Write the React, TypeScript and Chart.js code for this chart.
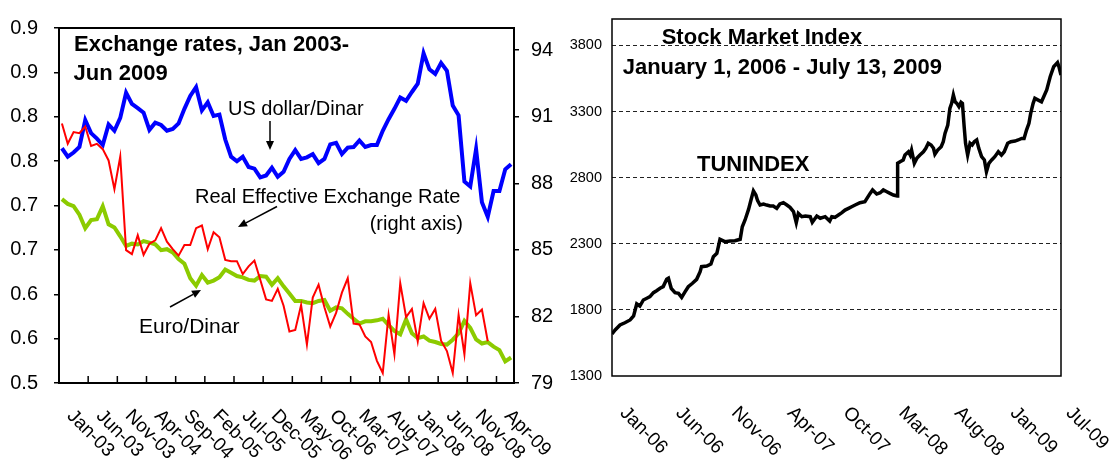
import React, { useEffect, useRef } from 'react';
import { Chart, registerables } from 'chart.js';

Chart.register(...registerables);

const FONT = '"Liberation Sans", Arial, sans-serif';

// ---------- Left chart: exchange rates (monthly, Jan-03 .. Jun-09) ----------
const monthNames = ['Jan', 'Feb', 'Mar', 'Apr', 'May', 'Jun', 'Jul', 'Aug', 'Sep', 'Oct', 'Nov', 'Dec'];
const categories: string[] = [];
for (let y = 2003; y <= 2009; y++) {
  for (let m = 0; m < 12; m++) {
    if (y === 2009 && m > 5) break;
    categories.push(`${monthNames[m]}-${String(y).slice(2)}`);
  }
}

const leftXLabels = ['Jan-03', 'Jun-03', 'Nov-03', 'Apr-04', 'Sep-04', 'Feb-05', 'Jul-05', 'Dec-05',
  'May-06', 'Oct-06', 'Mar-07', 'Aug-07', 'Jan-08', 'Jun-08', 'Nov-08', 'Apr-09'];

const leftYTicks = [0.5, 0.55, 0.6, 0.65, 0.7, 0.75, 0.8, 0.85, 0.9];
const leftYLabels = ['0.5', '0.6', '0.6', '0.7', '0.7', '0.8', '0.8', '0.9', '0.9'];
const rightYTicks = [79, 82, 85, 88, 91, 94];

const usdDinar = [
  0.7645, 0.755, 0.7597, 0.766, 0.7962, 0.7816, 0.7754, 0.7681, 0.7914, 0.7842,
  0.7987, 0.8271, 0.8144, 0.8097, 0.8046, 0.7852, 0.7933, 0.7907, 0.7842, 0.7863,
  0.7925, 0.8089, 0.8235, 0.8333, 0.8071, 0.8162, 0.8009, 0.8024, 0.7743, 0.755,
  0.7499, 0.755, 0.7434, 0.7415, 0.7317, 0.7338, 0.7426, 0.7324, 0.7379, 0.7525,
  0.7623, 0.7525, 0.7543, 0.7579, 0.7477, 0.7525, 0.7689, 0.7707, 0.7579, 0.7652,
  0.7659, 0.7732, 0.7659, 0.7681, 0.7681, 0.7842, 0.7973, 0.8089, 0.8217, 0.818,
  0.8279, 0.8373, 0.8716, 0.8534, 0.8483, 0.8607, 0.8519, 0.8126, 0.8016, 0.727,
  0.7215, 0.7634, 0.7036, 0.6872, 0.7164, 0.7164, 0.7408, 0.7466,
];

const euroDinar = [
  0.7072, 0.7018, 0.6992, 0.6897, 0.6744, 0.6835, 0.6846, 0.6992, 0.6788, 0.6752,
  0.6653, 0.6544, 0.657, 0.6562, 0.6599, 0.6581, 0.6562, 0.6497, 0.6508, 0.6471,
  0.6398, 0.6344, 0.618, 0.6096, 0.6216, 0.6132, 0.6154, 0.6191, 0.6278, 0.6242,
  0.6205, 0.6191, 0.6162, 0.6154, 0.6205, 0.6198, 0.6107, 0.618, 0.6089, 0.6009,
  0.5925, 0.5925, 0.5907, 0.5899, 0.5925, 0.5936, 0.5815, 0.5852, 0.5841, 0.5779,
  0.5724, 0.567, 0.5695, 0.5695, 0.5706, 0.5724, 0.5651, 0.5586, 0.5549, 0.5717,
  0.556, 0.5506, 0.5524, 0.5477, 0.5462, 0.544, 0.5433, 0.5488, 0.556, 0.57,
  0.5622, 0.549, 0.5445, 0.546, 0.541, 0.537, 0.5243, 0.5287,
];

const reer = [
  90.7, 89.78, 90.31, 90.26, 90.56, 89.68, 89.78, 89.54, 89.03, 87.74,
  89.2, 84.99, 84.81, 85.66, 84.78, 85.28, 85.43, 85.98, 85.37, 85.03,
  84.74, 85.22, 85.22, 85.98, 86.1, 85.03, 85.8, 85.57, 84.55, 84.49,
  84.49, 83.91, 84.26, 84.52, 83.65, 82.77, 82.7, 83.24, 82.48, 81.32,
  81.39, 82.51, 80.73, 82.85, 83.43, 82.41, 81.54, 82.16, 83.07, 83.72,
  81.68, 81.64, 81.1, 80.85, 80.0, 79.45, 82.07, 80.3, 83.5, 81.97,
  82.34, 80.88, 82.6, 81.9, 82.34, 80.91, 80.44, 79.45, 82.07, 80.3,
  83.5, 82.05, 82.31, 80.88,
];

// ---------- Right chart: TUNINDEX (days since Jan 1, 2006) ----------
const tunDays = [
  0, 9, 23, 37, 52, 62, 71, 80, 90, 100,
  109, 119, 128, 138, 147, 157, 162, 170, 181, 191,
  200, 210, 219, 231, 243, 253, 257, 272, 284, 291,
  301, 310, 324, 339, 353, 368, 374, 382, 392, 399,
  406, 413, 418, 425, 435, 444, 454, 463, 473, 482,
  492, 502, 511, 521, 529, 535, 545, 555, 569, 575,
  588, 598, 612, 625, 631, 640, 650, 660, 669, 679,
  688, 698, 712, 726, 741, 748, 760, 770, 779, 789,
  798, 808, 819, 820, 827, 836, 841, 851, 856, 860,
  868, 875, 884, 894, 901, 908, 916, 923, 927, 935,
  945, 951, 956, 964, 970, 975, 980, 985, 990, 996,
  1002, 1006, 1011, 1015, 1021, 1028, 1034, 1040, 1047, 1053,
  1061, 1069, 1075, 1082, 1090, 1099, 1109, 1118, 1126, 1136,
  1145, 1157, 1166, 1176, 1183, 1190, 1197, 1202, 1209, 1214,
  1233, 1248, 1258, 1268, 1279, 1283, 1289,
];

const tunIndex = [
  1618, 1648, 1686, 1703, 1724, 1754, 1845, 1829, 1875, 1888,
  1900, 1930, 1945, 1963, 1976, 2031, 2039, 1963, 1930, 1925,
  1895, 1938, 1975, 2001, 2031, 2089, 2127, 2132, 2147, 2202,
  2228, 2334, 2316, 2321, 2323, 2334, 2429, 2480, 2560, 2631,
  2700, 2669, 2626, 2593, 2601, 2593, 2586, 2586, 2568, 2601,
  2611, 2593, 2576, 2543, 2460, 2530, 2505, 2510, 2505, 2462,
  2510, 2493, 2505, 2472, 2505, 2500, 2518, 2535, 2555, 2568,
  2580, 2593, 2611, 2618, 2681, 2707, 2676, 2686, 2707, 2694,
  2681, 2669, 2661, 2909, 2921, 2934, 2971, 2996, 2971, 3009,
  2909, 2946, 2971, 2996, 3022, 3060, 3047, 3022, 2977, 3009,
  3034, 3072, 3135, 3198, 3324, 3362, 3425, 3374, 3362, 3337,
  3370, 3362, 3186, 3060, 2971, 3060, 3047, 3072, 3085, 3022,
  2959, 2934, 2845, 2909, 2934, 2959, 2996, 2971, 2996, 3060,
  3072, 3077, 3085, 3097, 3097, 3160, 3211, 3286, 3362, 3400,
  3374, 3463, 3563, 3639, 3670, 3640, 3576,
];

const tunXTickDays = [0, 160, 320, 480, 640, 800, 960, 1120, 1280];
const tunXLabels = ['Jan-06', 'Jun-06', 'Nov-06', 'Apr-07', 'Oct-07', 'Mar-08', 'Aug-08', 'Jan-09', 'Jul-09'];
const tunYTicks = [1300, 1800, 2300, 2800, 3300, 3800];

function drawArrow(ctx: CanvasRenderingContext2D, x1: number, y1: number, x2: number, y2: number) {
  const ang = Math.atan2(y2 - y1, x2 - x1);
  const len = 9;
  const hw = 4;
  const bx = x2 - len * Math.cos(ang);
  const by = y2 - len * Math.sin(ang);
  ctx.beginPath();
  ctx.moveTo(x1, y1);
  ctx.lineTo(bx, by);
  ctx.stroke();
  ctx.beginPath();
  ctx.moveTo(x2, y2);
  ctx.lineTo(bx + hw * Math.sin(ang), by - hw * Math.cos(ang));
  ctx.lineTo(bx - hw * Math.sin(ang), by + hw * Math.cos(ang));
  ctx.closePath();
  ctx.fill();
}

function drawRotated(ctx: CanvasRenderingContext2D, text: string, x: number, y: number) {
  ctx.save();
  ctx.translate(x, y);
  ctx.rotate(Math.PI / 4);
  ctx.textAlign = 'left';
  ctx.textBaseline = 'middle';
  ctx.fillText(text, 0, 0);
  ctx.restore();
}

const leftDecor = {
  id: 'leftDecor',
  afterDraw(chart: any) {
    const { ctx, chartArea: a, scales } = chart;
    const xs = scales.x;
    ctx.save();
    ctx.strokeStyle = '#000';
    ctx.fillStyle = '#000';
    ctx.lineWidth = 2;
    ctx.strokeRect(a.left, a.top, a.right - a.left, a.bottom - a.top);
    const step = xs.getPixelForValue(1) - xs.getPixelForValue(0);
    ctx.lineWidth = 1.5;
    ctx.beginPath();
    for (let i = 5; i < categories.length; i += 5) {
      const px = xs.getPixelForValue(i) - step / 2;
      ctx.moveTo(px, a.bottom);
      ctx.lineTo(px, a.bottom - 7);
    }
    ctx.stroke();
    ctx.font = `19px ${FONT}`;
    leftXLabels.forEach((lab, k) => {
      drawRotated(ctx, lab, xs.getPixelForValue(k * 5) + 8, a.bottom + 30);
    });
    // titles
    ctx.textAlign = 'left';
    ctx.textBaseline = 'alphabetic';
    ctx.font = `bold 22px ${FONT}`;
    ctx.fillText('Exchange rates, Jan 2003-', 74, 51);
    ctx.fillText('Jun 2009', 73.5, 80);
    ctx.font = `20px ${FONT}`;
    ctx.fillText('US dollar/Dinar', 228, 114.5);
    ctx.fillText('Real Effective Exchange Rate', 195, 202.7);
    ctx.textAlign = 'right';
    ctx.fillText('(right axis)', 463, 229.5);
    ctx.textAlign = 'left';
    ctx.font = `21px ${FONT}`;
    ctx.fillText('Euro/Dinar', 139, 332.7);
    ctx.lineWidth = 1.5;
    drawArrow(ctx, 270, 121, 270, 150);
    drawArrow(ctx, 277, 206.5, 238, 227);
    drawArrow(ctx, 170, 307, 201, 290);
    ctx.restore();
  },
};

const rightDecor = {
  id: 'rightDecor',
  afterDraw(chart: any) {
    const { ctx, chartArea: a, scales } = chart;
    const xs = scales.x;
    ctx.save();
    ctx.strokeStyle = '#000';
    ctx.fillStyle = '#000';
    ctx.lineWidth = 1.5;
    ctx.strokeRect(a.left, a.top, a.right - a.left, a.bottom - a.top);
    ctx.font = `19px ${FONT}`;
    tunXTickDays.forEach((d, k) => {
      drawRotated(ctx, tunXLabels[k], xs.getPixelForValue(d) + 11, a.bottom + 34);
    });
    ctx.textAlign = 'left';
    ctx.textBaseline = 'alphabetic';
    ctx.font = `bold 22px ${FONT}`;
    ctx.fillText('Stock Market Index', 101.7, 43.7);
    ctx.fillText('January 1, 2006 - July 13, 2009', 62.7, 73.7);
    ctx.fillText('TUNINDEX', 137, 170.5);
    ctx.restore();
  },
};

export default function App() {
  const leftRef = useRef<HTMLCanvasElement>(null);
  const rightRef = useRef<HTMLCanvasElement>(null);

  useEffect(() => {
    const left = new Chart(leftRef.current as HTMLCanvasElement, {
      type: 'line',
      data: {
        labels: categories,
        datasets: [
          {
            label: 'Real Effective Exchange Rate (right axis)',
            data: reer,
            yAxisID: 'y1',
            borderColor: '#FF0000',
            borderWidth: 2,
            pointRadius: 0,
            tension: 0,
            fill: false,
          },
          {
            label: 'Euro/Dinar',
            data: euroDinar,
            yAxisID: 'y',
            borderColor: '#8CCB00',
            borderWidth: 4,
            pointRadius: 0,
            tension: 0,
            fill: false,
          },
          {
            label: 'US dollar/Dinar',
            data: usdDinar,
            yAxisID: 'y',
            borderColor: '#0000FF',
            borderWidth: 4,
            pointRadius: 0,
            tension: 0,
            fill: false,
          },
        ],
      },
      options: {
        animation: false,
        responsive: false,
        devicePixelRatio: 1,
        layout: { padding: { top: 17, left: 0, right: 0, bottom: 0 } },
        plugins: { legend: { display: false }, tooltip: { enabled: false } },
        scales: {
          x: {
            type: 'category',
            offset: true,
            grid: { display: false },
            border: { display: false },
            ticks: { display: false },
            afterFit: (s: any) => { s.height = 79; },
          },
          y: {
            type: 'linear',
            position: 'left',
            min: 0.5,
            max: 0.9,
            afterBuildTicks: (s: any) => { s.ticks = leftYTicks.map((v) => ({ value: v })); },
            ticks: {
              callback: (_v: any, i: number) => leftYLabels[i],
              font: { family: FONT, size: 20 },
              color: '#000',
              padding: 16,
            },
            grid: { drawOnChartArea: false, drawTicks: true, tickLength: 5, color: '#000', lineWidth: 1.5 },
            border: { display: false },
            afterFit: (s: any) => { s.width = 59; },
          },
          y1: {
            type: 'linear',
            position: 'right',
            min: 79,
            max: 95,
            afterBuildTicks: (s: any) => { s.ticks = rightYTicks.map((v) => ({ value: v })); },
            ticks: {
              callback: (v: any) => String(v),
              font: { family: FONT, size: 20 },
              color: '#000',
              padding: 12,
            },
            grid: { drawOnChartArea: false, drawTicks: true, tickLength: 5, color: '#000', lineWidth: 1.5 },
            border: { display: false },
            afterFit: (s: any) => { s.width = 46; },
          },
        },
      },
      plugins: [leftDecor],
    } as any);

    const right = new Chart(rightRef.current as HTMLCanvasElement, {
      type: 'line',
      data: {
        datasets: [
          {
            label: 'TUNINDEX',
            data: tunDays.map((d, i) => ({ x: d, y: tunIndex[i] })),
            borderColor: '#000',
            borderWidth: 3.5,
            pointRadius: 0,
            tension: 0,
            fill: false,
          },
        ],
      },
      options: {
        animation: false,
        responsive: false,
        devicePixelRatio: 1,
        layout: { padding: { top: 19, left: 0, right: 52, bottom: 0 } },
        plugins: { legend: { display: false }, tooltip: { enabled: false } },
        scales: {
          x: {
            type: 'linear',
            min: 0,
            max: 1289,
            grid: { display: false },
            border: { display: false },
            ticks: { display: false },
            afterFit: (s: any) => { s.height = 86; },
          },
          y: {
            type: 'linear',
            min: 1300,
            max: 4000,
            afterBuildTicks: (s: any) => { s.ticks = tunYTicks.map((v) => ({ value: v })); },
            ticks: {
              callback: (v: any) => String(v),
              font: { family: FONT, size: 14.5 },
              color: '#000',
              padding: 10,
            },
            grid: {
              drawTicks: false,
              drawOnChartArea: true,
              lineWidth: 1,
              color: (c: any) => (c.tick && c.tick.value === 1300 ? 'rgba(0,0,0,0)' : '#222'),
            },
            border: { display: false, dash: [4, 3] },
            afterFit: (s: any) => { s.width = 52; },
          },
        },
      },
      plugins: [rightDecor],
    } as any);

    return () => {
      left.destroy();
      right.destroy();
    };
  }, []);

  return (
    <div style={{ position: 'absolute', left: 0, top: 0, width: 1113, height: 462, background: '#fff' }}>
      <canvas
        ref={leftRef}
        width={560}
        height={462}
        style={{ position: 'absolute', left: 0, top: 0, width: 560, height: 462 }}
      />
      <canvas
        ref={rightRef}
        width={553}
        height={462}
        style={{ position: 'absolute', left: 560, top: 0, width: 553, height: 462 }}
      />
    </div>
  );
}
